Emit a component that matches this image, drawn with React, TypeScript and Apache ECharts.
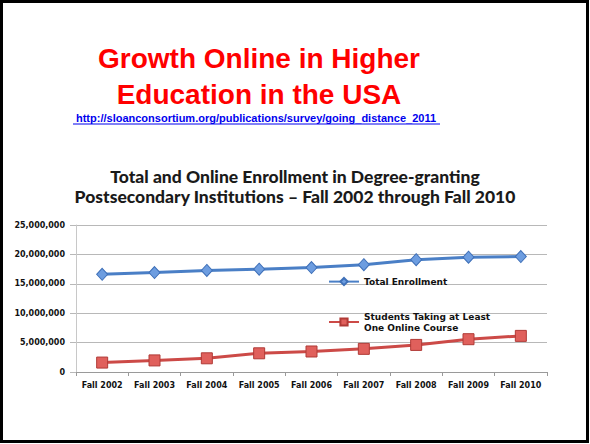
import React, { useEffect, useRef } from "react";
import * as echarts from "echarts";

const categories = ["Fall 2002", "Fall 2003", "Fall 2004", "Fall 2005", "Fall 2006", "Fall 2007", "Fall 2008", "Fall 2009", "Fall 2010"];
const totalEnrollment = [16611710, 16911481, 17272043, 17487481, 17758872, 18248133, 19102811, 19524750, 19641744];
const onlineEnrollment = [1602970, 1971397, 2329783, 3180050, 3488381, 3938111, 4606353, 5579022, 6142280];
const totalName = "Total Enrollment";
const onlineName = "Students Taking at Least\nOne Online Course";
const slideTitle = ["Growth Online in Higher", "Education in the USA"];
const linkText = "http://sloanconsortium.org/publications/survey/going_distance_2011";
const chartTitle = "Total and Online Enrollment in Degree-granting\nPostsecondary Institutions – Fall 2002 through Fall 2010";

export default function App() {
  const ref = useRef<HTMLDivElement>(null);
  useEffect(() => {
    if (!ref.current) return;
    const chart = echarts.init(ref.current, undefined, { renderer: "svg" });
    const axisFont = { fontFamily: "DejaVu Sans", fontWeight: "bold" as const, fontSize: 8, color: "#111111" };
    chart.setOption({
      animation: false,
      backgroundColor: "#ffffff",
      title: {
        text: chartTitle,
        left: "center",
        top: 167,
        padding: 0,
        textStyle: { fontFamily: "Lato", fontWeight: 900, fontSize: 17.5, lineHeight: 19.5, color: "#1a1a1a" },
      },
      grid: { left: 76, right: 43, top: 225, bottom: 72 },
      legend: [
        {
          data: [totalName],
          left: 323,
          top: 272,
          orient: "vertical",
          itemWidth: 30,
          itemHeight: 9,
          itemGap: 0,
          textStyle: { ...axisFont, fontSize: 9 },
        },
        {
          data: [onlineName],
          left: 323,
          top: 299,
          orient: "vertical",
          itemWidth: 30,
          itemHeight: 9,
          textStyle: { ...axisFont, fontSize: 9, lineHeight: 11, padding: [14, 0, 0, 0] },
        },
      ],
      xAxis: {
        type: "category",
        data: categories,
        boundaryGap: true,
        axisLine: { lineStyle: { color: "#9a9a9a" } },
        axisTick: { show: true, length: 4, lineStyle: { color: "#9a9a9a" } },
        axisLabel: { ...axisFont, margin: 9, interval: 0 },
      },
      yAxis: {
        type: "value",
        min: 0,
        max: 25000000,
        interval: 5000000,
        axisLine: { show: true, lineStyle: { color: "#c8c8c8" } },
        axisTick: { show: true, length: 6, lineStyle: { color: "#b8b8b8" } },
        splitLine: { lineStyle: { color: "#b8b8b8" } },
        axisLabel: {
          ...axisFont,
          margin: 11,
          formatter: (v: number) => v.toLocaleString("en-US"),
        },
      },
      series: [
        {
          name: totalName,
          type: "line",
          data: totalEnrollment,
          symbol: "diamond",
          symbolSize: [11, 12],
          lineStyle: { color: "#4a7fc6", width: 3 },
          itemStyle: { color: "#6d9de0", borderColor: "#3f70b8", borderWidth: 1 },
        },
        {
          name: onlineName,
          type: "line",
          data: onlineEnrollment,
          symbol: "rect",
          symbolSize: 11,
          lineStyle: { color: "#cc4a47", width: 3 },
          itemStyle: { color: "#e0605c", borderColor: "#b03a36", borderWidth: 1 },
        },
      ],
      graphic: [
        {
          type: "rect",
          shape: { x: 1.5, y: 1.5, width: 586, height: 440 },
          style: { fill: "none", stroke: "#000000", lineWidth: 3 },
          silent: true,
        },
        {
          type: "text",
          x: 259,
          y: 58,
          style: {
            text: slideTitle[0],
            fontFamily: "Liberation Sans",
            fontWeight: "bold",
            fontSize: 28,
            fill: "#ff0000",
            align: "center",
            verticalAlign: "middle",
          },
        },
        {
          type: "text",
          x: 259,
          y: 94,
          style: {
            text: slideTitle[1],
            fontFamily: "Liberation Sans",
            fontWeight: "bold",
            fontSize: 28,
            fill: "#ff0000",
            align: "center",
            verticalAlign: "middle",
          },
        },
        {
          type: "text",
          x: 256,
          y: 118,
          style: {
            text: linkText,
            fontFamily: "Liberation Sans",
            fontWeight: "bold",
            fontSize: 11,
            fill: "#0000ee",
            align: "center",
            verticalAlign: "middle",
          },
        },
        {
          type: "line",
          shape: { x1: 73, y1: 124, x2: 440, y2: 124 },
          style: { stroke: "#0000ee", lineWidth: 1 },
        },
      ],
    });
    return () => chart.dispose();
  }, []);
  return <div ref={ref} style={{ position: "fixed", left: 0, top: 0, width: 590, height: 444 }} />;
}
